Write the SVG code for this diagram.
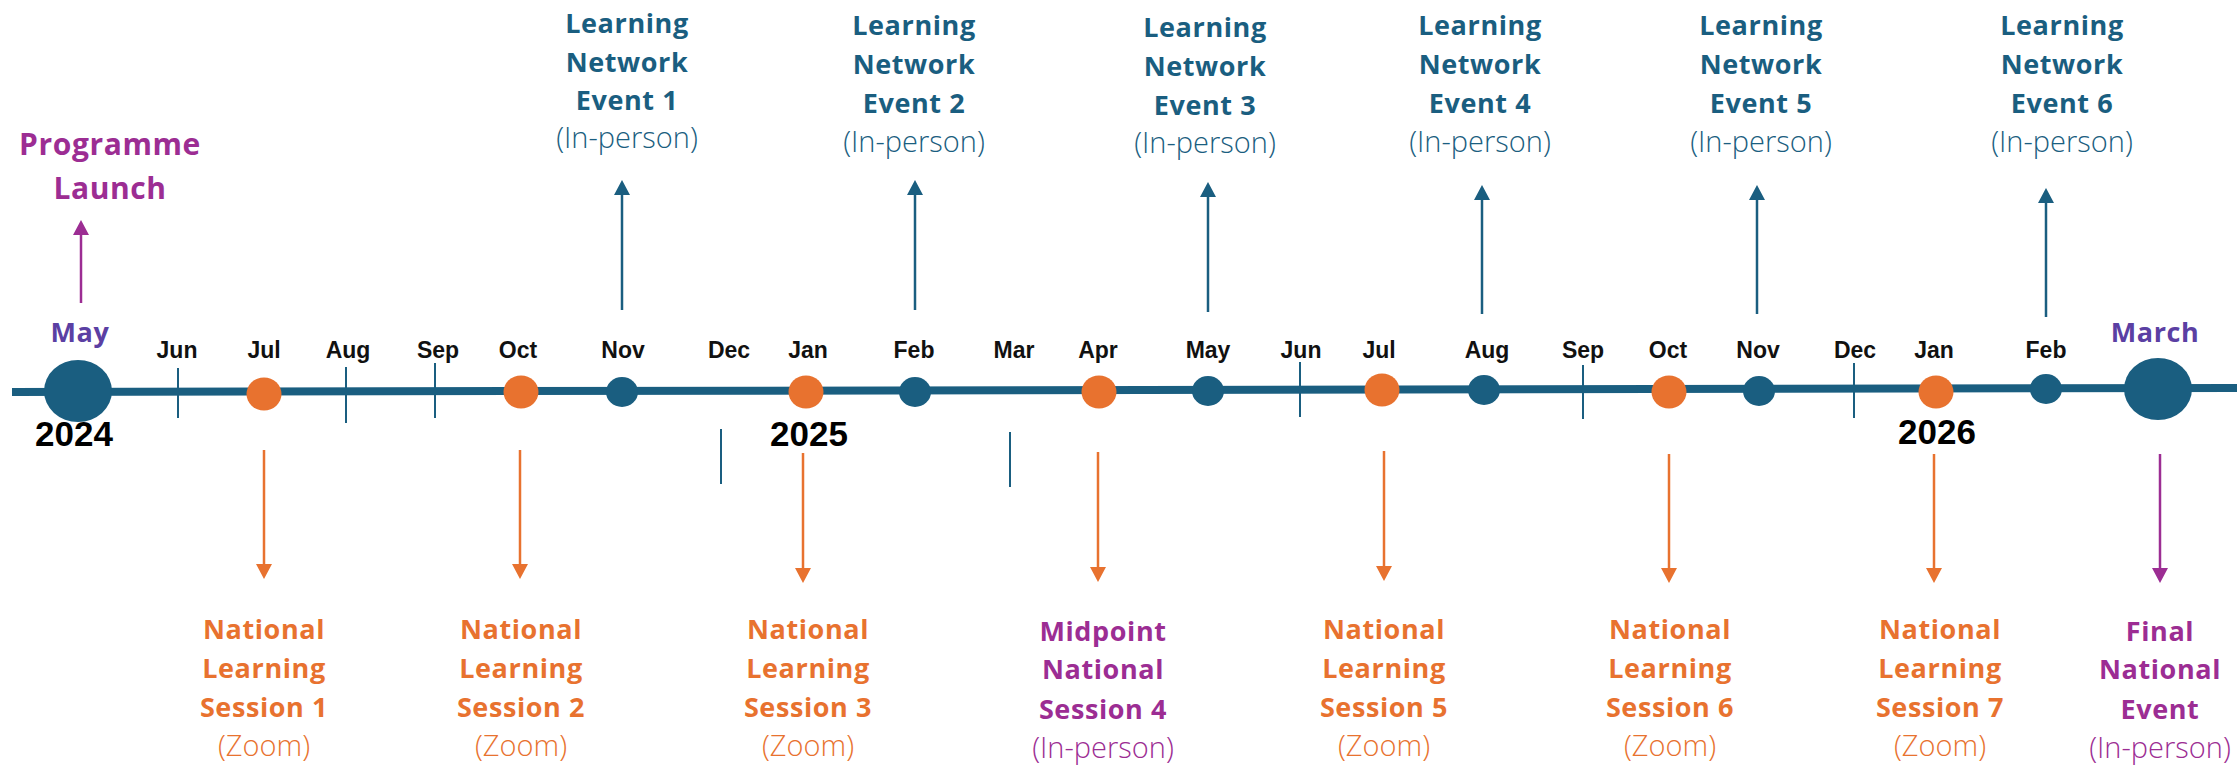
<svg xmlns="http://www.w3.org/2000/svg" width="2237" height="765" viewBox="0 0 2237 765">
<style>
.bg{fill:#ffffff}
.mon{font-family:"Liberation Sans",Arial,sans-serif;font-weight:700;font-size:23px;fill:#111;text-anchor:middle}
.yr{font-family:"Liberation Sans",Arial,sans-serif;font-weight:700;font-size:35px;fill:#000;text-anchor:middle}
.lbl{font-family:"Open Sans","Noto Sans",sans-serif;font-weight:700;font-size:27px;text-anchor:middle;letter-spacing:0.6px}
.big{font-size:30px}
.sub{font-family:"Open Sans","Noto Sans",sans-serif;font-weight:300;font-size:29px;text-anchor:middle}
.teal{fill:#1A5E80}
.org{fill:#E8722F}
.pur{fill:#9C2D93}
.vio{fill:#5B3FA3}
.tick{stroke:#1A5E80;stroke-width:2}
.at{stroke:#1A5E80;stroke-width:2.5;fill:none}
.ao{stroke:#E8722F;stroke-width:2.5;fill:none}
.ap{stroke:#9C2D93;stroke-width:2.5;fill:none}
</style>
<defs>
<marker id="mt" markerUnits="userSpaceOnUse" markerWidth="16" markerHeight="16" viewBox="0 0 16 16" refX="0" refY="8" orient="auto"><path d="M0,0 L15,8 L0,16 z" fill="#1A5E80"/></marker>
<marker id="mo" markerUnits="userSpaceOnUse" markerWidth="16" markerHeight="16" viewBox="0 0 16 16" refX="0" refY="8" orient="auto"><path d="M0,0 L15,8 L0,16 z" fill="#E8722F"/></marker>
<marker id="mp" markerUnits="userSpaceOnUse" markerWidth="16" markerHeight="16" viewBox="0 0 16 16" refX="0" refY="8" orient="auto"><path d="M0,0 L15,8 L0,16 z" fill="#9C2D93"/></marker>
</defs>
<rect class="bg" x="0" y="0" width="2237" height="765"/>

<g id="timeline">
<line x1="12" y1="392" x2="2237" y2="388" stroke="#1A5E80" stroke-width="8"/>
<line class="tick" x1="178" y1="368" x2="178" y2="418"/>
<line class="tick" x1="346" y1="367" x2="346" y2="423"/>
<line class="tick" x1="435" y1="363" x2="435" y2="418"/>
<line class="tick" x1="721" y1="429" x2="721" y2="484"/>
<line class="tick" x1="1010" y1="432" x2="1010" y2="487"/>
<line class="tick" x1="1300" y1="362" x2="1300" y2="417"/>
<line class="tick" x1="1583" y1="365" x2="1583" y2="419"/>
<line class="tick" x1="1854" y1="363" x2="1854" y2="418"/>
</g>

<g id="months">
<text class="lbl vio" x="80" y="342">May</text>
<text class="mon" x="177" y="358">Jun</text>
<text class="mon" x="264" y="358">Jul</text>
<text class="mon" x="348" y="358">Aug</text>
<text class="mon" x="438" y="358">Sep</text>
<text class="mon" x="518" y="358">Oct</text>
<text class="mon" x="623" y="358">Nov</text>
<text class="mon" x="729" y="358">Dec</text>
<text class="mon" x="808" y="358">Jan</text>
<text class="mon" x="914" y="358">Feb</text>
<text class="mon" x="1014" y="358">Mar</text>
<text class="mon" x="1098" y="358">Apr</text>
<text class="mon" x="1208" y="358">May</text>
<text class="mon" x="1301" y="358">Jun</text>
<text class="mon" x="1379" y="358">Jul</text>
<text class="mon" x="1487" y="358">Aug</text>
<text class="mon" x="1583" y="358">Sep</text>
<text class="mon" x="1668" y="358">Oct</text>
<text class="mon" x="1758" y="358">Nov</text>
<text class="mon" x="1855" y="358">Dec</text>
<text class="mon" x="1934" y="358">Jan</text>
<text class="mon" x="2046" y="358">Feb</text>
<text class="lbl vio" x="2155" y="342">March</text>
<text class="yr" x="74" y="446">2024</text>
<text class="yr" x="809" y="446">2025</text>
<text class="yr" x="1937" y="444">2026</text>
</g>

<g id="connectors">
<line class="ap" x1="81" y1="303" x2="81" y2="235" marker-end="url(#mp)"/>
<line class="at" x1="622" y1="310" x2="622" y2="195" marker-end="url(#mt)"/>
<line class="at" x1="915" y1="310" x2="915" y2="195" marker-end="url(#mt)"/>
<line class="at" x1="1208" y1="312" x2="1208" y2="197" marker-end="url(#mt)"/>
<line class="at" x1="1482" y1="314" x2="1482" y2="200" marker-end="url(#mt)"/>
<line class="at" x1="1757" y1="314" x2="1757" y2="200" marker-end="url(#mt)"/>
<line class="at" x1="2046" y1="317" x2="2046" y2="203" marker-end="url(#mt)"/>
<line class="ao" x1="264" y1="450" x2="264" y2="564" marker-end="url(#mo)"/>
<line class="ao" x1="520" y1="450" x2="520" y2="564" marker-end="url(#mo)"/>
<line class="ao" x1="803" y1="453" x2="803" y2="568" marker-end="url(#mo)"/>
<line class="ao" x1="1098" y1="452" x2="1098" y2="567" marker-end="url(#mo)"/>
<line class="ao" x1="1384" y1="451" x2="1384" y2="566" marker-end="url(#mo)"/>
<line class="ao" x1="1669" y1="454" x2="1669" y2="568" marker-end="url(#mo)"/>
<line class="ao" x1="1934" y1="454" x2="1934" y2="568" marker-end="url(#mo)"/>
<line class="ap" x1="2160" y1="454" x2="2160" y2="568" marker-end="url(#mp)"/>
</g>

<g id="dot-may24"><ellipse cx="78" cy="391" rx="34" ry="31" class="teal"/></g>
<g id="dot-jul24"><ellipse cx="264" cy="394" rx="17.5" ry="16.5" class="org"/></g>
<g id="dot-oct24"><ellipse cx="521" cy="392" rx="17.5" ry="16.5" class="org"/></g>
<g id="dot-nov24"><ellipse cx="622" cy="392" rx="16" ry="15" class="teal"/></g>
<g id="dot-jan25"><ellipse cx="806" cy="392" rx="17.5" ry="16.5" class="org"/></g>
<g id="dot-feb25"><ellipse cx="915" cy="392" rx="16" ry="15" class="teal"/></g>
<g id="dot-apr25"><ellipse cx="1099" cy="392" rx="17.5" ry="16.5" class="org"/></g>
<g id="dot-may25"><ellipse cx="1208" cy="391" rx="16" ry="15" class="teal"/></g>
<g id="dot-jul25"><ellipse cx="1382" cy="390" rx="17.5" ry="16.5" class="org"/></g>
<g id="dot-aug25"><ellipse cx="1484" cy="390" rx="16" ry="15" class="teal"/></g>
<g id="dot-oct25"><ellipse cx="1669" cy="392" rx="17.5" ry="16.5" class="org"/></g>
<g id="dot-nov25"><ellipse cx="1759" cy="391" rx="16" ry="15" class="teal"/></g>
<g id="dot-jan26"><ellipse cx="1936" cy="392" rx="17.5" ry="16.5" class="org"/></g>
<g id="dot-feb26"><ellipse cx="2046" cy="389" rx="16" ry="15" class="teal"/></g>
<g id="dot-mar26"><ellipse cx="2158" cy="389" rx="34" ry="31" class="teal"/></g>

<g id="launch">
<text class="lbl big pur" x="110" y="155">Programme</text>
<text class="lbl big pur" x="110" y="199">Launch</text>
</g>

<g id="ln1">
<text class="lbl teal" x="627" y="33">Learning</text>
<text class="lbl teal" x="627" y="72">Network</text>
<text class="lbl teal" x="627" y="110">Event 1</text>
<text class="sub teal" x="627" y="148">(In-person)</text>
</g>
<g id="ln2">
<text class="lbl teal" x="914" y="35">Learning</text>
<text class="lbl teal" x="914" y="74">Network</text>
<text class="lbl teal" x="914" y="113">Event 2</text>
<text class="sub teal" x="914" y="152">(In-person)</text>
</g>
<g id="ln3">
<text class="lbl teal" x="1205" y="37">Learning</text>
<text class="lbl teal" x="1205" y="76">Network</text>
<text class="lbl teal" x="1205" y="115">Event 3</text>
<text class="sub teal" x="1205" y="153">(In-person)</text>
</g>
<g id="ln4">
<text class="lbl teal" x="1480" y="35">Learning</text>
<text class="lbl teal" x="1480" y="74">Network</text>
<text class="lbl teal" x="1480" y="113">Event 4</text>
<text class="sub teal" x="1480" y="152">(In-person)</text>
</g>
<g id="ln5">
<text class="lbl teal" x="1761" y="35">Learning</text>
<text class="lbl teal" x="1761" y="74">Network</text>
<text class="lbl teal" x="1761" y="113">Event 5</text>
<text class="sub teal" x="1761" y="152">(In-person)</text>
</g>
<g id="ln6">
<text class="lbl teal" x="2062" y="35">Learning</text>
<text class="lbl teal" x="2062" y="74">Network</text>
<text class="lbl teal" x="2062" y="113">Event 6</text>
<text class="sub teal" x="2062" y="152">(In-person)</text>
</g>

<g id="ns1">
<text class="lbl org" x="264" y="639">National</text>
<text class="lbl org" x="264" y="678">Learning</text>
<text class="lbl org" x="264" y="717">Session 1</text>
<text class="sub org" x="264" y="756">(Zoom)</text>
</g>
<g id="ns2">
<text class="lbl org" x="521" y="639">National</text>
<text class="lbl org" x="521" y="678">Learning</text>
<text class="lbl org" x="521" y="717">Session 2</text>
<text class="sub org" x="521" y="756">(Zoom)</text>
</g>
<g id="ns3">
<text class="lbl org" x="808" y="639">National</text>
<text class="lbl org" x="808" y="678">Learning</text>
<text class="lbl org" x="808" y="717">Session 3</text>
<text class="sub org" x="808" y="756">(Zoom)</text>
</g>
<g id="ns4">
<text class="lbl pur" x="1103" y="641">Midpoint</text>
<text class="lbl pur" x="1103" y="679">National</text>
<text class="lbl pur" x="1103" y="719">Session 4</text>
<text class="sub pur" x="1103" y="758">(In-person)</text>
</g>
<g id="ns5">
<text class="lbl org" x="1384" y="639">National</text>
<text class="lbl org" x="1384" y="678">Learning</text>
<text class="lbl org" x="1384" y="717">Session 5</text>
<text class="sub org" x="1384" y="756">(Zoom)</text>
</g>
<g id="ns6">
<text class="lbl org" x="1670" y="639">National</text>
<text class="lbl org" x="1670" y="678">Learning</text>
<text class="lbl org" x="1670" y="717">Session 6</text>
<text class="sub org" x="1670" y="756">(Zoom)</text>
</g>
<g id="ns7">
<text class="lbl org" x="1940" y="639">National</text>
<text class="lbl org" x="1940" y="678">Learning</text>
<text class="lbl org" x="1940" y="717">Session 7</text>
<text class="sub org" x="1940" y="756">(Zoom)</text>
</g>
<g id="final">
<text class="lbl pur" x="2160" y="641">Final</text>
<text class="lbl pur" x="2160" y="679">National</text>
<text class="lbl pur" x="2160" y="719">Event</text>
<text class="sub pur" x="2160" y="758">(In-person)</text>
</g>
</svg>
